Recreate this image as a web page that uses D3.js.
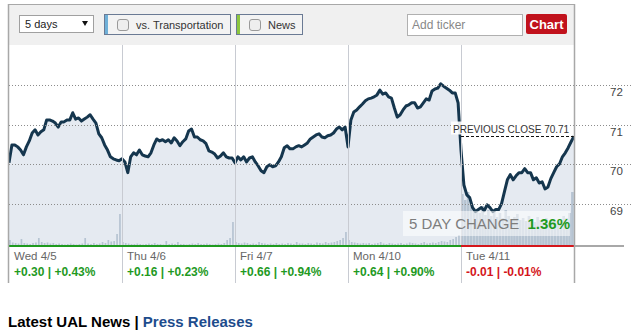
<!DOCTYPE html>
<html><head><meta charset="utf-8">
<script src="https://cdn.jsdelivr.net/npm/d3@7"></script>
<style>body{margin:0;background:#fff;} text{font-family:"Liberation Sans",Arial,sans-serif;}</style>
</head><body><svg id="c" width="640" height="332"></svg>
<script>
const dayNames = ["Wed 4/5","Thu 4/6","Fri 4/7","Mon 4/10","Tue 4/11"];
const dayChanges = ["+0.30 | +0.43%","+0.16 | +0.23%","+0.66 | +0.94%","+0.64 | +0.90%","-0.01 | -0.01%"];
const dayUp = [true,true,true,true,false];

const priceWed = [70.04,70.49,70.49,70.44,70.36,70.24,70.44,70.59,70.79,70.87,70.74,70.82,70.87,71.12,71.12,71.09,71.04,70.94,71.07,71.07,71.12,71.12,71.30,71.14,71.17,71.09,71.14,71.19,71.25,71.14,71.04,70.77,70.67,70.49,70.36,70.19,70.14,70.11,70.09];
const priceThu = [70.14,70.06,69.79,70.19,70.29,70.24,70.36,70.24,70.21,70.19,70.29,70.49,70.64,70.59,70.62,70.57,70.62,70.54,70.67,70.59,70.47,70.57,70.64,70.84,70.89,70.69,70.69,70.62,70.59,70.52,70.34,70.31,70.26,70.16,70.21,70.29,70.19,70.16,70.16];
const priceFri = [70.04,70.19,70.11,70.19,70.06,70.16,70.19,70.06,69.96,69.84,69.79,69.94,69.99,69.94,69.96,70.06,70.19,70.42,70.47,70.39,70.39,70.44,70.47,70.44,70.49,70.54,70.64,70.69,70.74,70.77,70.69,70.67,70.72,70.74,70.79,70.89,70.94,70.87,70.94];
const priceMon = [70.44,71.12,71.32,71.37,71.45,71.52,71.60,71.65,71.67,71.70,71.75,71.87,71.77,71.80,71.70,71.67,71.42,71.19,71.25,71.37,71.47,71.50,71.55,71.55,71.42,71.45,71.55,71.65,71.62,71.85,71.90,71.92,72.03,71.97,71.92,71.87,71.80,71.80,71.55];
const priceTue = [70.36,69.48,69.23,69.16,68.91,68.81,68.86,68.91,68.83,68.98,68.91,68.81,68.86,68.86,69.01,69.31,69.61,69.74,69.61,69.71,69.79,69.79,69.89,69.79,69.79,69.61,69.66,69.53,69.56,69.38,69.43,69.64,69.79,69.94,70.01,70.19,70.29,70.42,70.57,70.71];

const volWed = [60,35,30,25,70,30,25,20,30,35,80,40,30,35,25,30,20,25,20,15,20,25,20,15,20,25,80,25,20,30,20,25,40,30,60,45,50,120,320];
const volThu = [40,30,25,20,20,25,20,15,20,25,20,30,20,20,15,50,20,25,20,40,20,20,15,20,25,20,30,20,20,25,20,15,20,25,20,30,60,80,240];
const volFri = [40,30,25,35,30,20,25,20,40,30,25,20,25,20,30,20,25,20,30,25,20,40,25,25,20,30,25,20,35,30,25,40,30,35,40,50,60,80,140];
const volMon = [60,40,35,30,25,30,25,30,20,25,30,40,25,20,30,25,20,25,30,20,25,35,30,25,20,30,40,25,30,35,30,40,50,45,40,60,70,90,110];
const volTue = [520,460,540,420,380,350,330,400,310,360,300,350,290,330,280,360,300,270,290,320,260,280,250,300,270,240,290,260,250,280,230,260,240,250,270,300,280,330,540];

const yTicks = [69,70,71,72];
const prevClose = 70.71;
const fiveDayChange = "1.36%";

const priceDays = [priceWed,priceThu,priceFri,priceMon,priceTue];
const volDays = [volWed,volThu,volFri,volMon,volTue];
const STEPS = 39;

const svg = d3.select("#c");
const L = 9, R = 574, T = 45, B = 245;
const x = d3.scaleLinear().domain([0,5]).range([L,R]);
const y = d3.scaleLinear().domain([68,73]).range([243.7,45.3]);
const v = d3.scaleLinear().domain([0,1000]).range([0,100]);
const GREEN = "#1f9a1f", RED = "#d4161b";

// header
svg.append("rect").attr("x",8.5).attr("y",4.5).attr("width",566).attr("height",41)
  .attr("fill","#f0f0f0").attr("stroke","#a8a8a8");
svg.append("rect").attr("x",19.5).attr("y",15.5).attr("width",74).attr("height",17)
  .attr("fill","#fff").attr("stroke","#a0a0a0");
svg.append("text").attr("x",25).attr("y",28).attr("font-size",11).attr("fill","#222").text("5 days");
svg.append("path").attr("d","M82,21 L88,21 L85,26 Z").attr("fill","#111");
function toggle(x0,w,accent,label){
  svg.append("rect").attr("x",x0+0.5).attr("y",14.5).attr("width",w).attr("height",20)
    .attr("fill","#f3f3f3").attr("stroke","#6a7a94");
  svg.append("rect").attr("x",x0+1).attr("y",15).attr("width",3).attr("height",19).attr("fill",accent);
  svg.append("rect").attr("x",x0+13.5).attr("y",19.5).attr("width",11).attr("height",11).attr("rx",2.5)
    .attr("fill","#eeeeee").attr("stroke","#9a9a9a");
  svg.append("text").attr("x",x0+32).attr("y",28.5).attr("font-size",11).attr("fill","#333").text(label);
}
toggle(104,126,"#6fb0d8","vs. Transportation");
toggle(236,66,"#8cc63e","News");
svg.append("rect").attr("x",407.5).attr("y",14.5).attr("width",115).attr("height",21)
  .attr("fill","#fff").attr("stroke","#b0b0b0");
svg.append("text").attr("x",412).attr("y",29).attr("font-size",12).attr("fill","#888").text("Add ticker");
svg.append("rect").attr("x",526).attr("y",14).attr("width",41).attr("height",20).attr("rx",2).attr("fill","#c1121c");
svg.append("text").attr("x",546.5).attr("y",28.5).attr("text-anchor","middle").attr("font-size",13)
  .attr("font-weight","bold").attr("fill","#fff").text("Chart");

// plot
svg.append("defs").append("clipPath").attr("id","pc").append("rect")
  .attr("x",L).attr("y",T).attr("width",R-L).attr("height",B-T);
const g = svg.append("g").attr("clip-path","url(#pc)");
g.append("rect").attr("x",L).attr("y",T).attr("width",R-L).attr("height",B-T).attr("fill","#fff");

const pts = priceDays.flatMap((arr,d)=>arr.map((p,k)=>({t:d+k/STEPS,p})));
g.append("path").datum(pts)
  .attr("d", d3.area().x(d=>x(d.t)).y0(B+1).y1(d=>y(d.p)))
  .attr("fill","#e5eaf1");

const step = (x(1)-x(0))/STEPS;
const bars = volDays.flatMap((arr,d)=>arr.map((val,k)=>({t:d+k/STEPS,val,d})));
g.selectAll("rect.vol").data(bars).enter().append("rect").attr("class","vol")
  .attr("x",d=>x(d.t)).attr("width",d=>d.d===4 ? step-0.3 : step-1.2)
  .attr("y",d=>B+1-v(d.val)).attr("height",d=>v(d.val))
  .attr("fill","#b6c4d2");

// grid
svg.selectAll("line.grid").data(yTicks).enter().append("line")
  .attr("x1",L).attr("x2",632).attr("y1",d=>Math.round(y(d))+0.5).attr("y2",d=>Math.round(y(d))+0.5)
  .attr("stroke","#8c8c8c").attr("stroke-dasharray","1,2");
svg.selectAll("text.yl").data(yTicks).enter().append("text")
  .attr("x",610).attr("y",d=>y(d)+11).attr("font-size",11.5).attr("fill","#444").text(d=>d);

svg.selectAll("line.sep").data([1,2,3,4]).enter().append("line")
  .attr("x1",d=>Math.round(x(d))+0.5).attr("x2",d=>Math.round(x(d))+0.5)
  .attr("y1",T).attr("y2",283).attr("stroke","#c8cbd2");

g.append("path").datum(pts)
  .attr("d", d3.line().x(d=>x(d.t)).y(d=>y(d.p)))
  .attr("fill","none").attr("stroke","#15364e").attr("stroke-width",3)
  .attr("stroke-linejoin","round");

// previous close
svg.append("rect").attr("x",451).attr("y",121.5).attr("width",118).attr("height",13)
  .attr("fill","#fff").attr("opacity",0.9);
svg.append("text").attr("x",453).attr("y",133).attr("font-size",10).attr("fill","#333")
  .text("PREVIOUS CLOSE " + prevClose.toFixed(2));
svg.append("line").attr("x1",x(4)).attr("x2",R).attr("y1",Math.round(y(prevClose))+0.5).attr("y2",Math.round(y(prevClose))+0.5)
  .attr("stroke","#111").attr("stroke-dasharray","3,2");

// 5 day change box
svg.append("rect").attr("x",403).attr("y",211).attr("width",167).attr("height",25)
  .attr("fill","#fff").attr("opacity",0.55);
const t5 = svg.append("text").attr("x",409).attr("y",228.5).attr("font-size",15);
t5.append("tspan").attr("fill","#7d7d7d").text("5 DAY CHANGE ");
t5.append("tspan").attr("fill",GREEN).attr("font-weight","bold").attr("dx",4).text(fiveDayChange);

// baseline
svg.append("line").attr("x1",L).attr("x2",x(4)).attr("y1",246).attr("y2",246).attr("stroke",GREEN).attr("stroke-width",2);
svg.append("line").attr("x1",x(4)).attr("x2",R).attr("y1",246).attr("y2",246).attr("stroke",RED).attr("stroke-width",2);
svg.append("line").attr("x1",R).attr("x2",624).attr("y1",246).attr("y2",246).attr("stroke","#a8a8a8").attr("stroke-width",2);

[8.5,574.5].forEach(xx=>svg.append("line").attr("x1",xx).attr("x2",xx).attr("y1",4).attr("y2",283)
  .attr("stroke","#a8a8a8").attr("stroke-width",1.5));

dayNames.forEach((n,d)=>{
  svg.append("text").attr("x",x(d)+5).attr("y",260).attr("font-size",11.5).attr("fill","#666").text(n);
  svg.append("text").attr("x",x(d)+5).attr("y",276).attr("font-size",12).attr("font-weight","bold")
    .attr("fill",dayUp[d]?GREEN:RED).text(dayChanges[d]);
});

const ft = svg.append("text").attr("x",8).attr("y",327).attr("font-size",15).attr("font-weight","bold");
ft.append("tspan").attr("fill","#000").text("Latest UAL News | ");
ft.append("tspan").attr("fill","#1d4c8c").text("Press Releases");
</script></body></html>
